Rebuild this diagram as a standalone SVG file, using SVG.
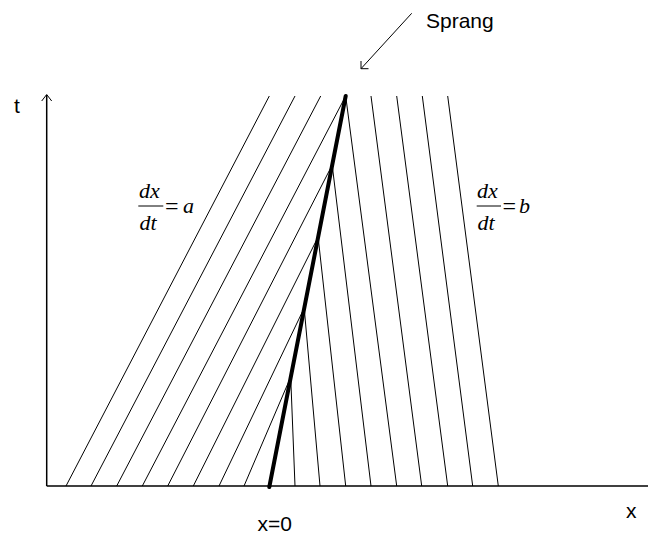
<svg xmlns="http://www.w3.org/2000/svg" width="648" height="535" viewBox="0 0 648 535">
<defs>
<style>
.thin{stroke:#000;stroke-width:1;fill:none}
.axis{stroke:#000;stroke-width:1.5;fill:none}
.shock{stroke:#000;stroke-width:4;fill:none;stroke-linecap:round}
.lbl{font-family:"Liberation Sans",Arial,sans-serif;font-size:21px;fill:#000}
.m{font-family:"Liberation Serif","Times New Roman",serif;font-size:22px;font-style:italic;fill:#000}
.eq{font-family:"Liberation Serif","Times New Roman",serif;font-size:24px;fill:#000}
</style>
</defs>
<rect width="648" height="535" fill="#fff"/>
<g id="axes">
<line class="axis" x1="46.7" y1="486" x2="648" y2="486"/>
<line class="axis" x1="46.7" y1="486" x2="46.7" y2="95"/>
<polyline class="thin" points="41.7,101 46.7,94.5 51.7,101"/>
</g>
<g id="left-characteristics">
<line class="thin" x1="66" y1="486" x2="269.3" y2="96"/>
<line class="thin" x1="91" y1="486" x2="295" y2="96"/>
<line class="thin" x1="116.7" y1="486" x2="320.7" y2="96"/>
<line class="thin" x1="142.3" y1="486" x2="345.7" y2="96"/>
<line class="thin" x1="167.7" y1="486" x2="332.2" y2="165"/>
<line class="thin" x1="193.3" y1="486" x2="318.1" y2="237"/>
<line class="thin" x1="219" y1="486" x2="304.2" y2="308"/>
<line class="thin" x1="244" y1="486" x2="290.7" y2="377"/>
</g>
<g id="right-characteristics">
<line class="thin" x1="295" y1="486" x2="290.7" y2="377"/>
<line class="thin" x1="320" y1="486" x2="304.2" y2="308"/>
<line class="thin" x1="345.7" y1="486" x2="318.1" y2="237"/>
<line class="thin" x1="371" y1="486" x2="332.2" y2="165"/>
<line class="thin" x1="396.7" y1="486" x2="345.7" y2="96"/>
<line class="thin" x1="421.7" y1="486" x2="371" y2="96"/>
<line class="thin" x1="447.7" y1="486" x2="396.7" y2="96"/>
<line class="thin" x1="472.7" y1="486" x2="422.3" y2="96"/>
<line class="thin" x1="498.3" y1="486" x2="447.7" y2="96"/>
</g>
<g id="shock">
<line class="shock" x1="269.3" y1="487" x2="345.7" y2="96"/>
</g>
<g id="connectors">
<line class="thin" x1="411.7" y1="13.3" x2="361" y2="68.7"/>
<polyline class="thin" points="361,61 361,68.7 368.5,68.7"/>
</g>
<g id="labels">
<text class="lbl" x="14" y="113">t</text>
<text class="lbl" x="426" y="28">Sprang</text>
<text class="lbl" x="626" y="518">x</text>
<text class="lbl" x="257.5" y="531">x=0</text>
</g>
<g id="formula-a">
<text class="m" x="139" y="198">dx</text>
<line class="thin" x1="138.3" y1="206" x2="163.3" y2="206"/>
<text class="m" x="139.5" y="230">dt</text>
<text class="eq" x="165" y="214">=</text>
<text class="m" x="183" y="213">a</text>
</g>
<g id="formula-b">
<text class="m" x="477" y="198">dx</text>
<line class="thin" x1="476.7" y1="206" x2="501" y2="206"/>
<text class="m" x="477.5" y="230">dt</text>
<text class="eq" x="502.5" y="214">=</text>
<text class="m" x="519" y="213">b</text>
</g>
</svg>
